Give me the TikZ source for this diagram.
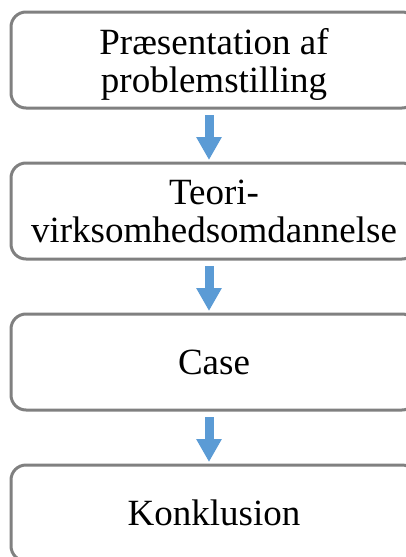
\documentclass[tikz,border=0pt]{standalone}
\usepackage{fontspec}
\setmainfont{Liberation Serif}
\definecolor{boxgray}{RGB}{128,128,128}
\definecolor{flowblue}{RGB}{91,155,213}
\usetikzlibrary{arrows.meta, positioning}

\begin{document}
\begin{tikzpicture}[
		stepbox/.style={draw=boxgray, line width=3pt, rounded corners=15pt, minimum width=406pt, minimum height=96pt, align=center, font=\fontsize{37pt}{38pt}\selectfont, text depth=0pt},
		flowarrow/.style={color=flowblue, line width=9pt, -{Triangle[width=24pt,length=23pt]}, shorten <=5.5pt, shorten >=1.5pt},
		node distance=52pt
		]
		
		\useasboundingbox (0pt,0pt) rectangle (406pt,-557pt);
		\clip (0pt,0pt) rectangle (406pt,-557pt);
		
		% Boxes
		\node[stepbox] (praesentation) at (214pt,-60pt) {Præsentation af\\problemstilling};
		\node[stepbox, below=of praesentation] (teori) {Teori-\\virksomhedsomdannelse};
		\node[stepbox, below=of teori] (case) {Case};
		\node[stepbox, below=of case] (konklusion) {Konklusion};
		
		% Arrows
		\draw[flowarrow] ([xshift=-5pt]praesentation.south) -- ([xshift=-5pt]teori.north);
		\draw[flowarrow] ([xshift=-5pt]teori.south) -- ([xshift=-5pt]case.north);
		\draw[flowarrow] ([xshift=-5pt]case.south) -- ([xshift=-5pt]konklusion.north);
		
	\end{tikzpicture}
\end{document}
